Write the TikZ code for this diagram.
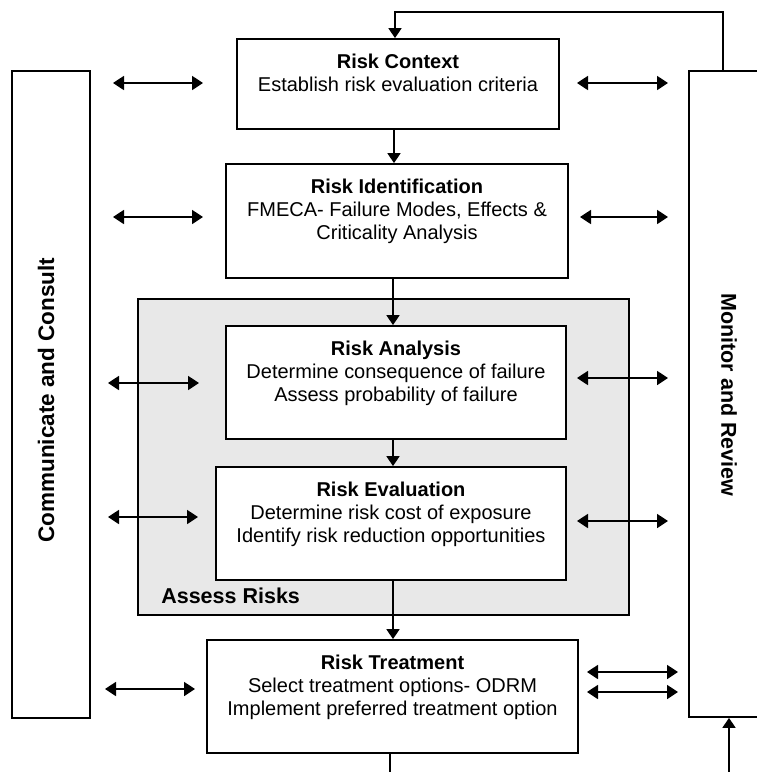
\documentclass[tikz,border=0pt]{standalone}
\usepackage{fontspec}
\setmainfont{Liberation Sans}
\usetikzlibrary{arrows.meta,positioning}
\definecolor{assessgray}{RGB}{232,232,232}
\tikzset{
  stage/.style = {draw=black, line width=1.8pt, fill=white, inner sep=0pt},% process box
  stage_txt/.style = {align=center, inner sep=0pt,
    font=\fontsize{20}{23}\selectfont},% text in a process box
  side/.style = {draw=black, line width=1.8pt, fill=white, inner sep=0pt},% side column
  side_txt/.style = {inner sep=0pt, font=\fontsize{21.5}{24}\selectfont\bfseries},
  flow/.style = {line width=1.8pt, -{Triangle[length=10pt,width=13pt]}},% one way
  talk/.style = {line width=1.8pt,
    {Triangle[length=11pt,width=14pt]}-{Triangle[length=11pt,width=14pt]}}% both ways
}

\begin{document}
\begin{tikzpicture}[x=1pt,y=-1pt]
        \clip (0,0) rectangle (757,772);

        % side columns
        \node [side, minimum width=78pt, minimum height=647pt] (comm) at (51,394.5) {};
        \node [side, minimum width=111pt, minimum height=646pt] (mon) at (744.5,394) {};
        \node [side_txt, font=\fontsize{22.5}{25}\selectfont\bfseries, rotate=90] (comm_t)
          at (46,400) {Communicate and Consult};
        \node [side_txt, rotate=-90] (mon_t) at (729,395) {Monitor and Review};

        % assess risks group
        \node [draw=black, line width=1.8pt, fill=assessgray, minimum width=491pt,
          minimum height=316pt] (assess) at (383.5,457) {};
        \node [side_txt, anchor=south west] (assess_t) at ([shift={(24,-12)}]assess.south west) {Assess Risks};

        % process boxes
        \node [stage, minimum width=322pt, minimum height=90pt] (ctx) at (398,84) {};
        \node [stage, minimum width=342pt, minimum height=114pt] (ident) at (397,221) {};
        \node [stage, minimum width=340pt, minimum height=113pt] (analysis) at (396,382.5) {};
        \node [stage, minimum width=350pt, minimum height=113pt] (eval) at (391,523.5) {};
        \node [stage, minimum width=371pt, minimum height=113pt] (treat) at (392.5,696.5) {};

        \node [stage_txt, below=15.5pt of ctx.north] (ctx_t)
          {\textbf{Risk Context}\\Establish risk evaluation criteria};
        \node [stage_txt, below=15.5pt of ident.north] (ident_t)
          {\textbf{Risk Identification}\\FMECA- Failure Modes, Effects \&\\Criticality Analysis};
        \node [stage_txt, below=15.5pt of analysis.north] (analysis_t)
          {\textbf{Risk Analysis}\\Determine consequence of failure\\Assess probability of failure};
        \node [stage_txt, below=15.5pt of eval.north] (eval_t)
          {\textbf{Risk Evaluation}\\Determine risk cost of exposure\\Identify risk reduction opportunities};
        \node [stage_txt, below=15.5pt of treat.north] (treat_t)
          {\textbf{Risk Treatment}\\Select treatment options- ODRM\\Implement preferred treatment option};

        % main flow
        \draw [flow] ([xshift=-4pt]ctx.south) -- ([xshift=-4pt]ctx.south |- ident.north);
        \draw [flow] ([xshift=-4pt]ident.south) -- ([xshift=-4pt]ident.south |- analysis.north);
        \draw [flow] ([xshift=-3pt]analysis.south) -- ([xshift=-3pt]analysis.south |- eval.north);
        \draw [flow] ([xshift=2pt]eval.south) -- ([xshift=2pt]eval.south |- treat.north);

        % loop back from monitor and review
        \coordinate (down_end) at (390,772);
        \coordinate (up_end) at (729,772);
        \draw [line width=1.8pt] (treat.south -| down_end) -- (down_end);
        \draw [flow] (up_end) -- (up_end |- mon.south);
        \draw [flow] ([xshift=35pt]mon.north west) -- ++(0,-58) -| ([xshift=-3pt]ctx.north);

        % communicate and consult
        \foreach \n/\y/\a/\b in {1/83/113/203, 2/217/113/203, 3/383/108/199,
                                 4/517/108/198, 5/689/105/195}{
          \coordinate (cc\n a) at (\a,\y);
          \coordinate (cc\n b) at (\b,\y);
          \draw [talk] (cc\n a) -- (cc\n b);
        }
        % monitor and review
        \foreach \n/\y/\a/\b in {1/83/577/668, 2/217/580/668, 3/378/577/668,
                                 4/521/577/668, 5/672/587/678, 6/692/587/678}{
          \coordinate (mr\n a) at (\a,\y);
          \coordinate (mr\n b) at (\b,\y);
          \draw [talk] (mr\n a) -- (mr\n b);
        }

\end{tikzpicture}
\end{document}
